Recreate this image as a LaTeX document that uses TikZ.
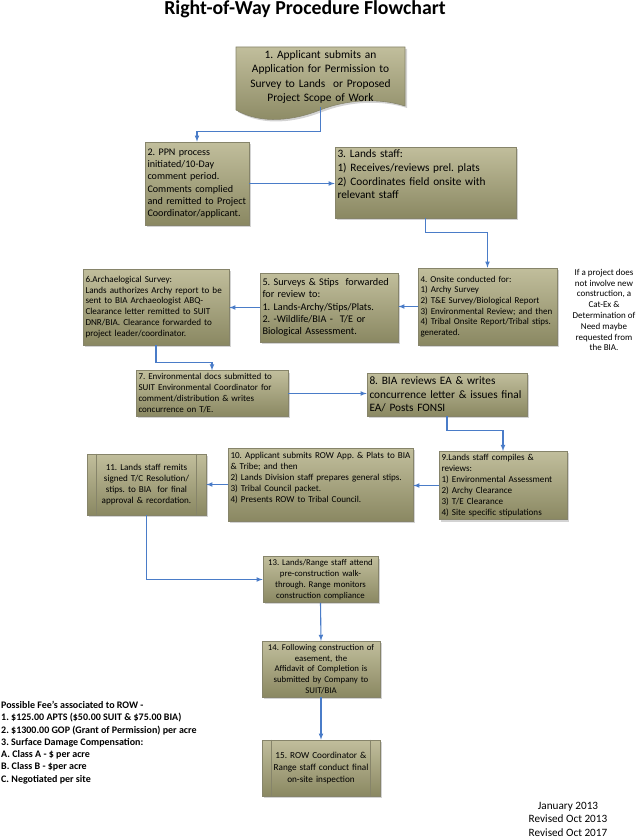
\documentclass[tikz,border=0pt]{standalone}
\usepackage{fontspec}
\setmainfont{Carlito}
\usetikzlibrary{arrows,shadows}
\definecolor{boxtop}{HTML}{C1BE9C}
\definecolor{boxbot}{HTML}{8A8862}
\definecolor{boxline}{HTML}{86846A}
\definecolor{flow}{HTML}{4A7CC8}
\newcommand{\fsz}[2]{\fontsize{#1}{#2}\selectfont}

\begin{document}
\frenchspacing
\begin{tikzpicture}[x=1pt, y=-1pt, >=latex,
        stage/.style = {draw=boxline, line width=0.6pt, top color=boxtop, bottom color=boxbot,
                        drop shadow={shadow xshift=2pt, shadow yshift=-2pt, opacity=0.35},
                        inner xsep=2.5pt, inner ysep=3pt, align=left},
        link/.style = {->, draw=flow, line width=1.1pt}]
        \useasboundingbox (0,0) rectangle (637,840);

        \node[font=\bfseries\fsz{19.8}{23}] (title) at (305,9) {Right-of-Way Procedure Flowchart};

        % document shape of step 1
        \path[draw=boxline, line width=0.6pt, top color=boxtop, bottom color=boxbot,
              drop shadow={shadow xshift=2pt, shadow yshift=-2pt, opacity=0.35}]
            (236,47) -- (405,47) -- (405,106)
            .. controls (380,98) and (348,99) .. (320,110)
            .. controls (295,120) and (262,125) .. (236,110) -- cycle;
        \node[inner sep=0, minimum height=60pt, text width=165pt, align=center, font=\fsz{11.4}{14.2}] (n_1) at (320.5,77)
            {1. Applicant submits an\\ Application for Permission to\\ Survey to Lands ~or Proposed\\ Project Scope of Work};

        \node[stage, text width=99pt, minimum height=83pt, font=\fsz{10.1}{12.3}] (n_2) at (197,183.5)
            {2. PPN process\\ initiated/10-Day\\ comment period.\\ Comments complied\\ and remitted to Project\\ Coordinator/applicant.};
        \node[stage, text width=176pt, minimum height=71pt, text depth=57pt, font=\fsz{11.3}{13.6}] (n_3) at (425.5,182.5)
            {3. Lands staff:\\ 1) Receives/reviews prel. plats\\ 2) Coordinates field onsite with\\ relevant staff};
        \node[stage, text width=134pt, minimum height=77pt, font=\fsz{9}{10.6}] (n_4) at (487.5,306.5)
            {4. Onsite conducted for:\\ 1) Archy Survey\\ 2) T\&E Survey/Biological Report\\ 3) Environmental Review; and then\\ 4) Tribal Onsite Report/Tribal stips.\\ generated.};
        \node[align=center, font=\fsz{9}{10.8}] (note) at (604,310)
            {If a project does\\ not involve new\\ construction, a\\ Cat-Ex \&\\ Determination of\\ Need maybe\\ requested from\\ the BIA.};
        \node[stage, text width=133pt, minimum height=69pt, font=\fsz{10.2}{12.3}] (n_5) at (329,307.5)
            {5. Surveys \& Stips~ forwarded\\ for review to:\\ 1. Lands-Archy/Stips/Plats.\\ 2. -Wildlife/BIA - ~T/E or\\ Biological Assessment.};
        \node[stage, text width=141pt, minimum height=76pt, font=\fsz{9.1}{10.8}] (n_6) at (156,307)
            {6.Archaelogical Survey:\\ Lands authorizes Archy report to be\\ sent to BIA Archaeologist ABQ-\\ Clearance letter remitted to SUIT\\ DNR/BIA. Clearance forwarded to\\ project leader/coordinator.};
        \node[stage, text width=147pt, minimum height=43pt, font=\fsz{9}{11}] (n_7) at (212,393.5)
            {7. Environmental docs submitted to\\ SUIT Environmental Coordinator for\\ comment/distribution \& writes\\ concurrence on T/E.};
        \node[stage, text width=155pt, minimum height=43pt, font=\fsz{11.3}{13.7}] (n_8) at (447,394.5)
            {8. BIA reviews EA \& writes\\ concurrence letter \& issues final\\ EA/ Posts FONSI};
        \node[stage, text width=123pt, minimum height=67pt, font=\fsz{9.1}{10.9}] (n_9) at (503,485.5)
            {9.Lands staff compiles \&\\ reviews:\\ 1) Environmental Assessment\\ 2) Archy Clearance\\ 3) T/E Clearance\\ 4) Site specific stipulations};
        \node[stage, text width=180pt, minimum height=73pt, text depth=59pt, font=\fsz{9.1}{11}] (n_10) at (320.5,484.5)
            {10. Applicant submits ROW App. \& Plats to BIA\\ \& Tribe; and then\\ 2) Lands Division staff prepares general stips.\\ 3) Tribal Council packet.\\ 4) Presents ROW to Tribal Council.};
        \node[stage, text width=114pt, minimum height=61pt, align=center, font=\fsz{9.1}{11.2}] (n_11) at (146.5,484.5)
            {11. Lands staff remits\\ signed T/C Resolution/\\ stips. to BIA ~for final\\ approval \& recordation.};
        \node[stage, text width=110pt, minimum height=45pt, align=center, font=\fsz{8.8}{10.8}] (n_13) at (320.5,579.5)
            {13. Lands/Range staff attend\\ pre-construction walk-\\ through. Range monitors\\ construction compliance};
        \node[stage, text width=113pt, minimum height=52pt, align=center, font=\fsz{8.8}{10.8}] (n_14) at (321,669)
            {14. Following construction of\\ easement, the\\ Affidavit of Completion is\\ submitted by Company to\\ SUIT/BIA};
        \node[stage, text width=113pt, minimum height=56pt, align=center, font=\fsz{9.2}{11.7}] (n_15) at (321,768)
            {15. ROW Coordinator \&\\ Range staff conduct final\\ on-site inspection};

        % inner bars of the process boxes
        \foreach \n in {n_11, n_15} {
            \draw[boxline, line width=0.6pt] ([xshift=10pt]\n.north west) -- ([xshift=10pt]\n.south west);
            \draw[boxline, line width=0.6pt] ([xshift=-10pt]\n.north east) -- ([xshift=-10pt]\n.south east);
        }

        \node[anchor=north west, align=left, inner sep=0, font=\bfseries\fsz{10}{12.3}] (fees) at (1,701)
            {Possible Fee’s associated to ROW -\\ 1. \$125.00 APTS (\$50.00 SUIT \& \$75.00 BIA)\\ 2. \$1300.00 GOP (Grant of Permission) per acre\\ 3. Surface Damage Compensation:\\ A. Class A - \$ per acre\\ B. Class B - \$per acre\\ C. Negotiated per site};
        \node[align=center, font=\fsz{11.2}{13.5}] (dates) at (568,819)
            {January 2013\\ Revised Oct 2013\\ Revised Oct 2017};

        \draw[link] (n_1.south) -- ++(0,24) -| (n_2.north);
        \draw[link] (n_2.east) -- (n_2.east -| n_3.west);
        \draw[link] (n_3.south) -- ++(0,14) -| (n_4.north);
        \draw[link] (n_4.west) -- (n_4.west -| n_5.east);
        \draw[link] (n_5.west) -- (n_5.west -| n_6.east);
        \draw[link] (n_6.south) -- ++(0,17) -| (n_7.north);
        \draw[link] (n_7.east) -- (n_7.east -| n_8.west);
        \draw[link] (n_8.south) -- ++(0,14) -| (n_9.north);
        \draw[link] (n_9.west) -- (n_9.west -| n_10.east);
        \draw[link] (n_10.west) -- (n_10.west -| n_11.east);
        \draw[link] (n_11.south) |- (n_13.west);
        \draw[link] (n_13.south) -- (n_14.north);
        \draw[link] (n_14.south) -- (n_15.north);
\end{tikzpicture}
\end{document}
